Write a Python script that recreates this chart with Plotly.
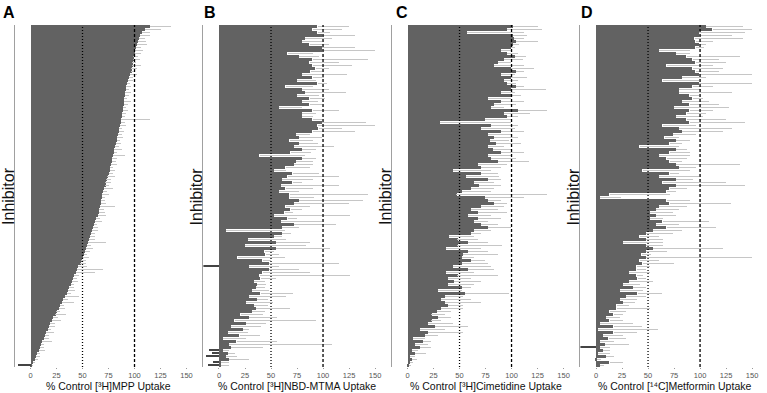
import plotly.graph_objects as go

# ---------------- data (top row first) ----------------
ticks = [0, 25, 50, 75, 100, 125, 150]

A_vals = [115,110,107,105,104,103,102,101,100,100,
          99,99,98,98,97,97,96,95,94,93,
          92,92,91,91,90,90,90,89,89,88,
          88,87,87,86,85,85,84,83,83,82,
          81,80,80,79,78,78,77,76,76,75,
          74,73,72,72,71,70,69,69,68,68,
          67,66,66,65,63,62,61,60,59,58,
          57,56,55,54,53,52,51,50,49,48,
          46,45,44,42,41,40,39,37,36,35,
          33,31,30,28,27,25,24,22,21,19,
          18,17,15,14,13,11,10,9,8,6,
          5,4,2,1]
A_errs = [20,15,8,10,6,8,10,5,8,6,
          4,6,3,8,5,3,6,4,5,3,
          5,3,6,4,3,7,4,3,5,4,
          3,28,4,6,3,5,4,6,3,5,
          4,8,3,12,5,4,6,3,5,4,
          7,4,5,3,8,4,6,3,4,5,
          14,5,6,8,4,7,3,5,6,4,
          5,6,18,4,7,5,3,6,4,5,
          8,25,18,5,4,6,3,5,7,4,
          14,5,12,4,6,3,10,4,8,5,
          6,3,8,4,5,10,3,4,6,3,
          4,3,2,1]
A_neg_idx = [113]
A_neg_val = [-12]

B_vals = [95,90,95,99,83,80,87,99,99,66,
          77,90,87,90,93,88,80,90,75,95,
          64,80,83,75,87,80,87,58,90,80,
          80,90,99,95,96,90,74,77,68,77,
          72,80,69,39,80,74,72,64,53,71,
          66,61,71,60,64,58,68,68,77,72,
          64,69,63,53,66,60,72,61,7,61,
          53,28,55,25,55,44,45,18,42,48,
          29,48,42,39,40,34,37,36,32,40,
          29,37,26,34,36,32,21,29,15,26,
          12,23,9,20,4,17,10,12,4,9,
          7,10,2,2]
B_errs = [30,28,12,32,26,19,19,32,51,24,
          19,53,28,38,13,11,43,11,18,9,
          26,26,39,21,15,15,12,22,25,13,
          10,9,42,55,22,41,13,22,22,18,
          39,13,19,44,13,16,18,23,11,25,
          49,29,9,55,26,19,75,23,61,53,
          23,11,8,73,9,39,40,16,56,8,
          8,36,32,59,52,9,13,45,8,67,
          29,29,45,87,15,10,8,8,16,31,
          35,10,26,13,32,12,21,27,78,19,
          28,6,19,19,22,39,99,30,6,6,
          10,19,8,8]
B_neg_idx = [80, 108, 109, 110, 112, 113]
B_neg_val = [-15, -9, -6, -12, -5, -10]

C_vals = [101,96,57,101,102,104,101,99,90,96,
          103,93,87,83,99,104,90,99,93,96,
          104,99,90,99,77,90,83,80,106,93,
          96,74,31,80,71,90,77,83,79,85,
          77,82,90,77,80,87,68,71,44,71,
          56,77,64,69,61,52,47,74,77,83,
          71,61,68,58,68,64,71,77,64,61,
          40,48,58,48,37,58,53,52,61,52,
          44,58,37,48,39,45,39,52,29,55,
          36,32,36,39,32,28,23,29,23,20,
          26,12,20,17,5,15,7,12,4,7,
          2,4,2,1]
C_errs = [24,33,55,14,10,21,6,4,9,10,
          11,18,12,29,23,8,13,16,13,8,
          8,34,13,10,22,22,21,13,28,25,
          10,25,68,26,32,22,22,23,19,24,
          16,17,22,22,24,30,28,19,36,16,
          32,13,19,21,22,28,87,38,13,13,
          22,26,28,22,22,13,16,22,16,10,
          24,20,19,43,34,19,34,12,13,25,
          36,25,27,39,22,26,25,9,23,43,
          17,29,35,14,21,14,13,13,9,24,
          32,24,33,12,12,8,13,11,6,11,
          5,5,3,2]
C_neg_idx = []
C_neg_val = []

D_vals = [106,112,99,99,95,96,99,96,61,77,
          87,93,96,68,93,96,99,83,64,99,
          93,80,80,90,93,83,90,75,90,87,
          77,87,90,64,80,83,74,66,77,71,
          42,77,71,61,68,71,77,80,45,71,
          61,77,64,77,71,68,13,4,68,71,
          61,58,52,58,52,64,58,68,55,48,
          42,48,26,48,55,48,44,48,42,45,
          39,39,32,39,40,32,26,36,23,40,
          29,23,26,20,20,13,17,10,13,4,
          17,2,17,7,12,4,9,4,7,2,
          10,1,13,4]
D_errs = [35,38,44,32,46,16,7,8,29,13,
          51,25,29,44,29,22,51,23,35,51,
          19,21,51,9,10,26,28,53,22,19,
          26,38,53,32,51,39,22,14,13,12,
          38,10,19,29,19,12,61,16,45,9,
          38,16,61,66,16,9,58,20,22,59,
          26,22,22,19,12,45,22,47,28,26,
          19,16,38,16,67,20,9,102,19,30,
          13,9,20,6,8,23,16,12,22,23,
          19,16,11,12,32,16,9,13,13,32,
          27,58,22,19,17,13,23,9,6,11,
          7,4,13,4]
D_neg_idx = [107]
D_neg_val = [-15]

letters = ["A", "B", "C", "D"]
x_titles = ["% Control [³H]MPP Uptake",
            "% Control [³H]NBD-MTMA Uptake",
            "% Control [³H]Cimetidine Uptake",
            "% Control [¹⁴C]Metformin Uptake"]

# ---------------- styling / layout ----------------
W, H = 767, 393
DARK = "#626262"
LIGHT = "#c6c6c6"
FONT = "Liberation Sans, Arial, sans-serif"
axis_left_px = [15, 205, 395, 585]
panel_w_px = 173
letter_px = [9, 212, 405, 592]
plot_top_px, plot_bot_px = 25, 367

panels = [(A_vals, A_errs, A_neg_idx, A_neg_val),
          (B_vals, B_errs, B_neg_idx, B_neg_val),
          (C_vals, C_errs, C_neg_idx, C_neg_val),
          (D_vals, D_errs, D_neg_idx, D_neg_val)]

fig = go.Figure()
annotations = []
shapes = []
for k, (vals, errs, nidx, nval) in enumerate(panels):
    n = len(vals)
    sfx = "" if k == 0 else str(k + 1)
    xa, ya = "x" + sfx, "y" + sfx
    idx = list(range(n))
    fig.add_trace(go.Bar(
        x=vals, y=idx, orientation="h", xaxis=xa, yaxis=ya,
        marker=dict(color=DARK, line=dict(width=0)),
        error_x=dict(type="data", symmetric=False, array=errs,
                     arrayminus=[0] * n, color=LIGHT, thickness=1.6, width=0),
        width=1.0, showlegend=False, hoverinfo="x"))
    if nidx:
        fig.add_trace(go.Bar(
            x=nval, y=nidx, orientation="h", xaxis=xa, yaxis=ya,
            marker=dict(color="#444444", line=dict(width=0)),
            width=0.35, showlegend=False, hoverinfo="x"))
    left = axis_left_px[k] / W
    right = (axis_left_px[k] + panel_w_px) / W
    fig.layout["xaxis" + sfx] = dict(
        domain=[left, right], anchor=ya, range=[-15, 150],
        tickvals=ticks, ticktext=[str(t) for t in ticks],
        ticks="outside", ticklen=1, tickcolor="#999999",
        tickfont=dict(size=7.5, color="#555555", family=FONT),
        showgrid=False, zeroline=False, showline=False, fixedrange=True)
    fig.layout["yaxis" + sfx] = dict(
        domain=[(H - plot_bot_px) / H, (H - plot_top_px) / H], anchor=xa,
        range=[n - 0.5, -0.5], showticklabels=False, ticks="",
        showgrid=False, zeroline=False, showline=True,
        linecolor="#a0a0a0", linewidth=1, fixedrange=True)
    for xv, dash in ((50, "1px,2px"), (100, "3px,2px")):
        shapes.append(dict(type="line", xref=xa, yref=ya + " domain",
                           x0=xv, x1=xv, y0=0, y1=1, layer="above",
                           line=dict(color="black", width=1.3, dash=dash)))
    annotations.append(dict(text="<b>%s</b>" % letters[k], x=letter_px[k] / W,
                            y=(H - 12) / H, xref="paper", yref="paper",
                            showarrow=False, xanchor="center", yanchor="middle",
                            font=dict(size=16, color="black", family=FONT)))
    annotations.append(dict(text="Inhibitor", x=(axis_left_px[k] - 7) / W,
                            y=(H - 196) / H, xref="paper", yref="paper",
                            textangle=-90, showarrow=False,
                            xanchor="center", yanchor="middle",
                            font=dict(size=16, color="#111111", family=FONT)))
    annotations.append(dict(text=x_titles[k], x=75, xref=xa,
                            y=0, yref="paper", showarrow=False,
                            xanchor="center", yanchor="bottom", borderpad=0,
                            font=dict(size=10.5, color="#111111", family=FONT)))

fig.update_layout(
    width=W, height=H, margin=dict(l=0, r=0, t=0, b=0),
    paper_bgcolor="white", plot_bgcolor="white",
    bargap=0, barmode="overlay",
    annotations=annotations, shapes=shapes,
    font=dict(family=FONT))

fig.write_html("out.html", config={"displayModeBar": False},
               post_script="document.body.style.margin='0';document.body.style.padding='0';")
